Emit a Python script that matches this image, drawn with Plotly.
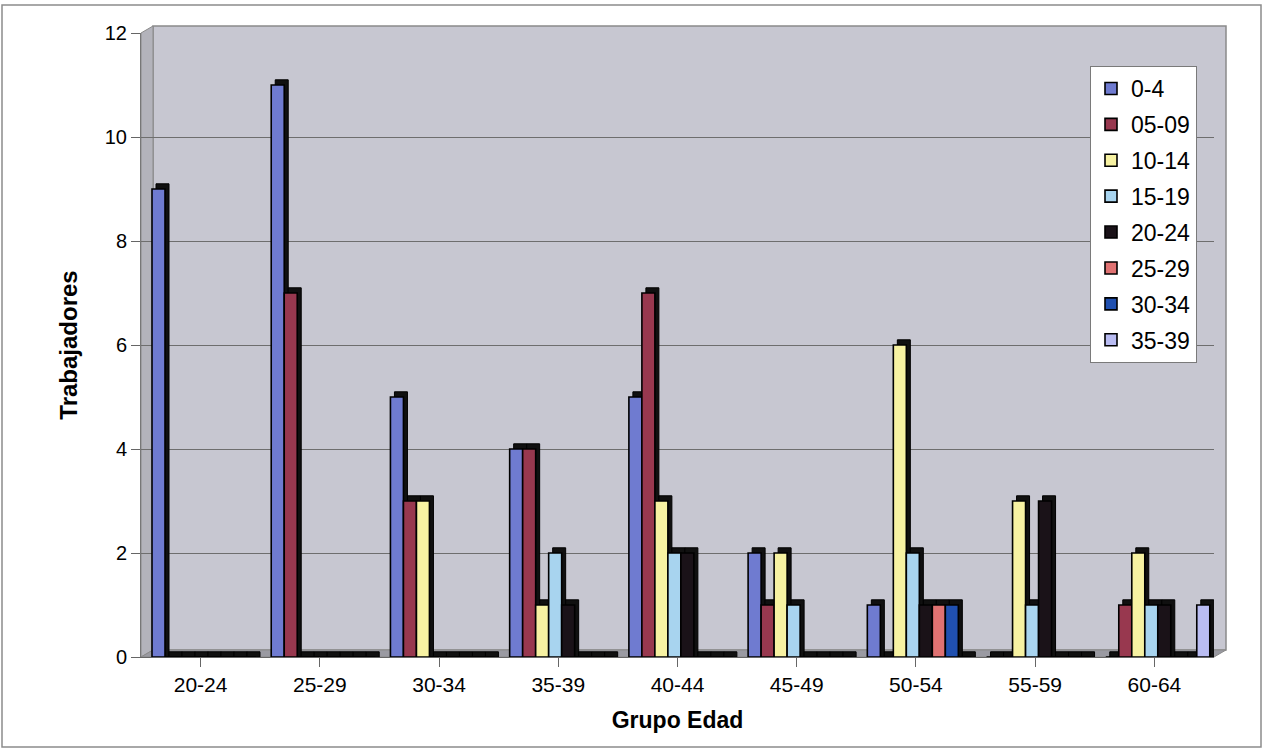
import plotly.graph_objects as go

# Age groups (x categories) and seniority bands (series)
grupos = ["20-24", "25-29", "30-34", "35-39", "40-44", "45-49", "50-54", "55-59", "60-64"]
antiguedad = ["0-4", "05-09", "10-14", "15-19", "20-24", "25-29", "30-34", "35-39"]

s_00_04 = [9, 11, 5, 4, 5, 2, 1, 0, 0]
s_05_09 = [0, 7, 3, 4, 7, 1, 0, 0, 1]
s_10_14 = [0, 0, 3, 1, 3, 2, 6, 3, 2]
s_15_19 = [0, 0, 0, 2, 2, 1, 2, 1, 1]
s_20_24 = [0, 0, 0, 1, 2, 0, 1, 3, 1]
s_25_29 = [0, 0, 0, 0, 0, 0, 1, 0, 0]
s_30_34 = [0, 0, 0, 0, 0, 0, 1, 0, 0]
s_35_39 = [0, 0, 0, 0, 0, 0, 0, 0, 1]

series = [s_00_04, s_05_09, s_10_14, s_15_19, s_20_24, s_25_29, s_30_34, s_35_39]
colores = ["#6f7bd0", "#98384f", "#f7f2a2", "#a8d4ef", "#1a1218", "#e07272", "#2050b0", "#b9bcf2"]

# Geometry of the plot area in pixels
W, H = 1263, 750
L, R, T, B = 141, 49, 33, 93
PW, PH = W - L - R, H - T - B
CAT_PX = PW / len(grupos)

BAR_W = 13 / CAT_PX          # bar width in category units
FIRST = -0.5 + 11 / CAT_PX   # left edge of first bar within a category
DX = 4 / CAT_PX              # 3D depth, horizontal
DY = 0.1                     # 3D depth, vertical (axis units)

FONT = "Liberation Sans, Arial, sans-serif"

fig = go.Figure()
x_idx = list(range(len(grupos)))

for i, (name, vals, col) in enumerate(zip(antiguedad, series, colores)):
    off = FIRST + i * BAR_W
    # dark side/top face giving the bars depth
    fig.add_trace(go.Bar(
        x=x_idx, y=[v + DY for v in vals], base=0,
        offset=off + DX, width=BAR_W,
        marker=dict(color="#101010", line=dict(color="#000000", width=1)),
        showlegend=False, hoverinfo="skip",
    ))
    # front face
    fig.add_trace(go.Bar(
        x=x_idx, y=vals, name=name, legendgroup=name,
        offset=off, width=BAR_W,
        marker=dict(color=col, line=dict(color="#000000", width=1.6)),
    ))

def px_x(p):
    return (p - L) / PW

def px_y(p):
    return (H - B - p) / PH

wx = 12 / PW
wy = 7 / PH
shapes = [
    # back wall
    dict(type="rect", xref="paper", yref="paper", x0=wx, x1=1 + wx, y0=wy, y1=1 + wy,
         fillcolor="#c7c7d1", line=dict(color="#8a8a8a", width=1.5), layer="below"),
    # left side wall
    dict(type="path", xref="paper", yref="paper",
         path=f"M 0 0 L {wx} {wy} L {wx} {1 + wy} L 0 1 Z",
         fillcolor="#b3b3bb", line=dict(color="#8a8a8a", width=1), layer="below"),
    # floor
    dict(type="path", xref="paper", yref="paper",
         path=f"M 0 0 L 1 0 L {1 + wx} {wy} L {wx} {wy} Z",
         fillcolor="#9a9aa2", line=dict(color="#8a8a8a", width=1), layer="below"),
    # outer frame
    dict(type="rect", xref="paper", yref="paper",
         x0=px_x(2), x1=px_x(1261), y0=px_y(747), y1=px_y(5),
         fillcolor="rgba(0,0,0,0)", line=dict(color="#8c8c8c", width=1.5), layer="below"),
]

fig.update_layout(
    width=W, height=H,
    margin=dict(l=L, r=R, t=T, b=B, autoexpand=False),
    paper_bgcolor="white", plot_bgcolor="rgba(0,0,0,0)",
    barmode="overlay",
    font=dict(family=FONT, color="#000000", size=19),
    shapes=shapes,
    showlegend=True,
    legend=dict(
        x=px_x(1090), y=px_y(66), xanchor="left", yanchor="top",
        xref="paper", yref="paper",
        bgcolor="white", bordercolor="#7a7a7a", borderwidth=1,
        font=dict(size=23, family=FONT),
        tracegroupgap=3, itemwidth=30,
    ),
)

fig.update_xaxes(
    tickmode="array", tickvals=x_idx, ticktext=grupos,
    range=[-0.5, len(grupos) - 0.5],
    showgrid=False, zeroline=False,
    showline=True, linecolor="#666666", linewidth=1,
    ticks="outside", ticklen=9, tickcolor="#666666",
    tickfont=dict(size=21),
    tickson="boundaries",
    title=dict(text="<b>Grupo Edad</b>", font=dict(size=23), standoff=16),
)

fig.update_yaxes(
    range=[0, 12], tickvals=[0, 2, 4, 6, 8, 10, 12],
    showgrid=True, gridcolor="#6e6e6e", gridwidth=1,
    zeroline=False,
    showline=True, linecolor="#777777", linewidth=1,
    ticks="outside", ticklen=9, tickcolor="#666666",
    tickfont=dict(size=20),
    title=dict(text="<b>Trabajadores</b>", font=dict(size=24), standoff=20),
)

fig.write_html("out.html")
